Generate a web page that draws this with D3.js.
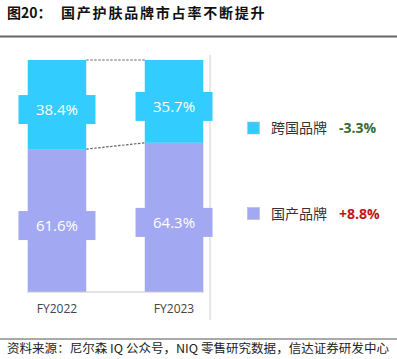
<!DOCTYPE html>
<html>
<head>
<meta charset="utf-8">
<script src="https://cdn.jsdelivr.net/npm/d3@7"></script>
<style>
  body { margin: 0; background: #fff; }
  svg { display: block; }
</style>
</head>
<body>
<div id="chart"></div>
<script>
var years = ["FY2022", "FY2023"];
var foreignShare = [38.4, 35.7];
var domesticShare = [61.6, 64.3];
var seriesNames = ["跨国品牌", "国产品牌"];
var seriesChange = ["-3.3%", "+8.8%"];

var width = 397, height = 359;
var cyan = "#33ccff", purple = "#a3a8f2";

var svg = d3.select("#chart").append("svg")
    .attr("width", width)
    .attr("height", height);

// title
var title = svg.append("text")
    .attr("x", 7)
    .attr("y", 18)
    .attr("font-family", "'Noto Sans CJK SC', sans-serif")
    .attr("font-weight", "bold")
    .attr("font-size", 14)
    .attr("fill", "#111");
title.append("tspan").text("图20：");
title.append("tspan").attr("x", 61).attr("letter-spacing", 1.8).text("国产护肤品牌市占率不断提升");

svg.append("line")
    .attr("x1", 0).attr("x2", width)
    .attr("y1", 36.5).attr("y2", 36.5)
    .attr("stroke", "#666").attr("stroke-width", 2);

// scales
var x = d3.scaleBand().domain(years).range([27.7, 203.3]).paddingInner(0.5).paddingOuter(0);
var y = d3.scaleLinear().domain([0, 100]).range([292, 60]);

var rows = years.map(function(d, i) {
    return { year: d, domestic: domesticShare[i], foreign: foreignShare[i] };
});
var stack = d3.stack().keys(["domestic", "foreign"])(rows);
var colors = { domestic: purple, foreign: cyan };

// right separator
svg.append("line")
    .attr("x1", 210).attr("x2", 210)
    .attr("y1", 55).attr("y2", 320)
    .attr("stroke", "#d0d0d0").attr("stroke-width", 1);

// connectors between bars
var connectors = [
    [100, 100],
    [domesticShare[0], domesticShare[1]]
];
connectors.forEach(function(c) {
    svg.append("line")
        .attr("x1", x(years[0]) + x.bandwidth())
        .attr("x2", x(years[1]))
        .attr("y1", y(c[0]))
        .attr("y2", y(c[1]))
        .attr("stroke", "#666")
        .attr("stroke-width", 1.2)
        .attr("stroke-dasharray", "2.5,1.5");
});

var layers = svg.selectAll("g.layer")
    .data(stack)
    .enter().append("g")
    .attr("class", "layer")
    .attr("fill", function(d) { return colors[d.key]; });

layers.selectAll("rect.bar")
    .data(function(d) { return d; })
    .enter().append("rect")
    .attr("class", "bar")
    .attr("x", function(d) { return x(d.data.year); })
    .attr("width", x.bandwidth())
    .attr("y", function(d) { return y(d[1]); })
    .attr("height", function(d) { return y(d[0]) - y(d[1]); });

// label boxes
var boxW = 77, boxH = 29;
layers.selectAll("rect.box")
    .data(function(d) { return d; })
    .enter().append("rect")
    .attr("class", "box")
    .attr("x", function(d) { return x(d.data.year) + x.bandwidth() / 2 - boxW / 2; })
    .attr("y", function(d) { return (y(d[0]) + y(d[1])) / 2 + 5 - boxH / 2; })
    .attr("width", boxW)
    .attr("height", boxH);

layers.selectAll("text")
    .data(function(d) { return d; })
    .enter().append("text")
    .attr("x", function(d) { return x(d.data.year) + x.bandwidth() / 2; })
    .attr("y", function(d) { return (y(d[0]) + y(d[1])) / 2 + 5; })
    .attr("dy", "0.36em")
    .attr("text-anchor", "middle")
    .attr("font-family", "'Open Sans', sans-serif")
    .attr("font-size", 15)
    .attr("fill", "#fff")
    .text(function(d) { return (d[1] - d[0]).toFixed(1) + "%"; });

// axis
var axis = svg.append("g")
    .attr("transform", "translate(0," + y(0) + ")")
    .call(d3.axisBottom(x).tickSize(0).tickPadding(12));
axis.select(".domain")
    .attr("d", "M27,0H204")
    .attr("stroke", "#c8c8c8");
axis.selectAll("text")
    .attr("font-family", "'Open Sans', sans-serif")
    .attr("font-size", 12)
    .attr("fill", "#444");

// legend
var legendY = [128, 213.5];
var legendColors = [cyan, purple];
var changeColors = ["#3a6b35", "#c0141c"];
seriesNames.forEach(function(name, i) {
    var g = svg.append("g").attr("transform", "translate(247," + legendY[i] + ")");
    g.append("rect")
        .attr("x", 0.5).attr("y", -6)
        .attr("width", 12).attr("height", 12)
        .attr("fill", legendColors[i])
        .attr("stroke", "#bbb").attr("stroke-width", 0.6);
    g.append("text")
        .attr("x", 24).attr("dy", "0.36em")
        .attr("font-family", "'Noto Sans CJK SC', sans-serif")
        .attr("font-size", 14)
        .attr("fill", "#333")
        .text(name);
    g.append("text")
        .attr("x", 92).attr("dy", "0.36em")
        .attr("font-family", "'Open Sans', sans-serif")
        .attr("font-weight", "bold")
        .attr("font-size", 14)
        .attr("fill", changeColors[i])
        .text(seriesChange[i]);
});

// source
svg.append("line")
    .attr("x1", 0).attr("x2", width)
    .attr("y1", 339).attr("y2", 339)
    .attr("stroke", "#555").attr("stroke-width", 1);
svg.append("text")
    .attr("x", 7)
    .attr("y", 353)
    .attr("font-family", "'Noto Sans CJK SC', sans-serif")
    .attr("font-size", 12)
    .attr("fill", "#222")
    .attr("textLength", 382)
    .attr("lengthAdjust", "spacingAndGlyphs")
    .text("资料来源：尼尔森 IQ 公众号，NIQ 零售研究数据，信达证券研发中心");
</script>
</body>
</html>
